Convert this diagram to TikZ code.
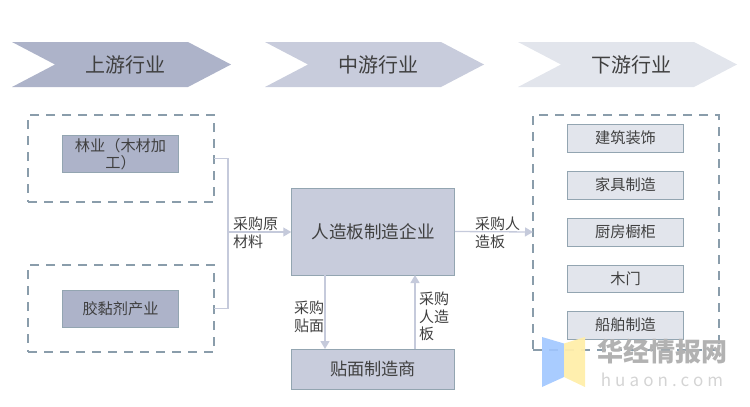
\documentclass[tikz,border=0pt]{standalone}
\usepackage{fontspec}
\setmainfont{Noto Sans CJK SC}
\usetikzlibrary{arrows.meta}
\definecolor{bandA}{HTML}{ADB3C9}
\definecolor{bandB}{HTML}{C8CCDC}
\definecolor{bandC}{HTML}{E2E5EC}
\definecolor{dashcol}{HTML}{8A9DAB}
\definecolor{edgecol}{HTML}{93A5B1}
\definecolor{linkcol}{HTML}{C5CADB}
\definecolor{inkcol}{HTML}{404040}
\definecolor{markblue}{HTML}{A0C6FF}
\definecolor{markyellow}{HTML}{FFEEAA}
\tikzset{
  headtext/.style={text=inkcol,font=\fontsize{20}{23}\selectfont},
  dashbox/.style={draw=dashcol,line width=1.8pt,dash pattern=on 9pt off 7pt,minimum width=186pt,outer sep=0pt},
  itembox/.style={draw=edgecol,line width=1pt,minimum width=116pt,text=inkcol,align=center,inner sep=0pt,outer sep=0pt,font=\fontsize{15.2}{17.5}\selectfont},
  linktext/.style={text=inkcol,align=left,inner sep=0pt,anchor=north west,font=\fontsize{15}{17.5}\selectfont},
  link/.style={draw=linkcol,line width=1.3pt},
  linkarrow/.style={link,-{Triangle[length=8pt,width=9pt]}},
}
\begin{document}
\begin{tikzpicture}[x=1pt,y=-1pt]
  \useasboundingbox (0,0) rectangle (750,407);
  % header bands
  \fill[bandA] (12,42) -- (188,42) -- (231,64.5) -- (188,87) -- (12,87) -- (55,64.5) -- cycle;
  \fill[bandB] (265,42) -- (441,42) -- (484,64.5) -- (441,87) -- (265,87) -- (308,64.5) -- cycle;
  \fill[bandC] (518,42) -- (694,42) -- (737,64.5) -- (694,87) -- (518,87) -- (561,64.5) -- cycle;
  \node[headtext] (headup) at (125.5,64.5) {上游行业};
  \node[headtext] (headmid) at (378.5,64.5) {中游行业};
  \node[headtext] (headdown) at (631.5,64.5) {下游行业};
  % upstream
  \node[dashbox,minimum height=87pt] (dashwood) at (121,158.5) {};
  \node[dashbox,minimum height=87pt] (dashglue) at (121,308.5) {};
  \node[itembox,fill=bandA,minimum height=37pt] (wood) at (120.5,154) {林业（木材加\\工）};
  \node[itembox,fill=bandA,minimum height=37pt] (glue) at (120.5,309) {胶黏剂产业};
  % midstream
  \node[itembox,fill=bandB,minimum width=163.5pt,minimum height=87pt,font=\fontsize{17.6}{20}\selectfont] (maker) at (373,231.5) {人造板制造企业};
  \node[itembox,fill=bandB,minimum width=163.5pt,minimum height=40pt,font=\fontsize{17.2}{20}\selectfont] (veneer) at (373,369) {贴面制造商};
  % downstream
  \node[dashbox,minimum height=235pt] (dashuse) at (626,232.5) {};
  \node[itembox,fill=bandC,minimum height=28pt] (build) at (625.5,138) {建筑装饰};
  \node[itembox,fill=bandC,minimum height=28pt] (furn) at (625.5,185) {家具制造};
  \node[itembox,fill=bandC,minimum height=28pt] (cabinet) at (625.5,232) {厨房橱柜};
  \node[itembox,fill=bandC,minimum height=27pt] (door) at (625.5,278.5) {木门};
  \node[itembox,fill=bandC,minimum height=28pt] (ship) at (625.5,325) {船舶制造};
  % connectors
  \coordinate (joint) at (228,232);
  \coordinate (downtop) at (325,275);
  \coordinate (downend) at (325,349);
  \coordinate (upstart) at (415,349);
  \coordinate (upend) at (415,275);
  \coordinate (useleft) at (533,232);
  \draw[link] (dashwood.east) -| (joint);
  \draw[link] (dashglue.east) -| (joint);
  \draw[linkarrow] (joint) -- (joint -| maker.west);
  \draw[linkarrow] (maker.east) -- (useleft);
  \draw[linkarrow] (downtop) -- (downend);
  \draw[linkarrow] (upstart) -- (upend);
  \node[linktext] (buyraw) at (233,217) {采购原\\材料};
  \node[linktext] (buysell) at (475,217) {采购人\\造板};
  \node[linktext] (buyface) at (294,301) {采购\\贴面};
  \node[linktext] (buyboard) at (419,292) {采购\\人造\\板};
  % watermark
  \fill[markblue,opacity=.9] (542,337) -- (564,343.5) -- (564,377) -- (542,387) -- cycle;
  \fill[markyellow,opacity=.95] (564,343.5) -- (585,337) -- (585,387) -- (564,377) -- cycle;
  \node[text=black!30,inner sep=0pt,font=\fontsize{26}{28}\selectfont\bfseries] (markcn) at (662,351.5) {华经情报网};
  \node[text=black!17,inner sep=0pt,font=\fontsize{17}{19}\selectfont\addfontfeatures{LetterSpace=24}] (markurl) at (662,380) {huaon.com};
\end{tikzpicture}
\end{document}
